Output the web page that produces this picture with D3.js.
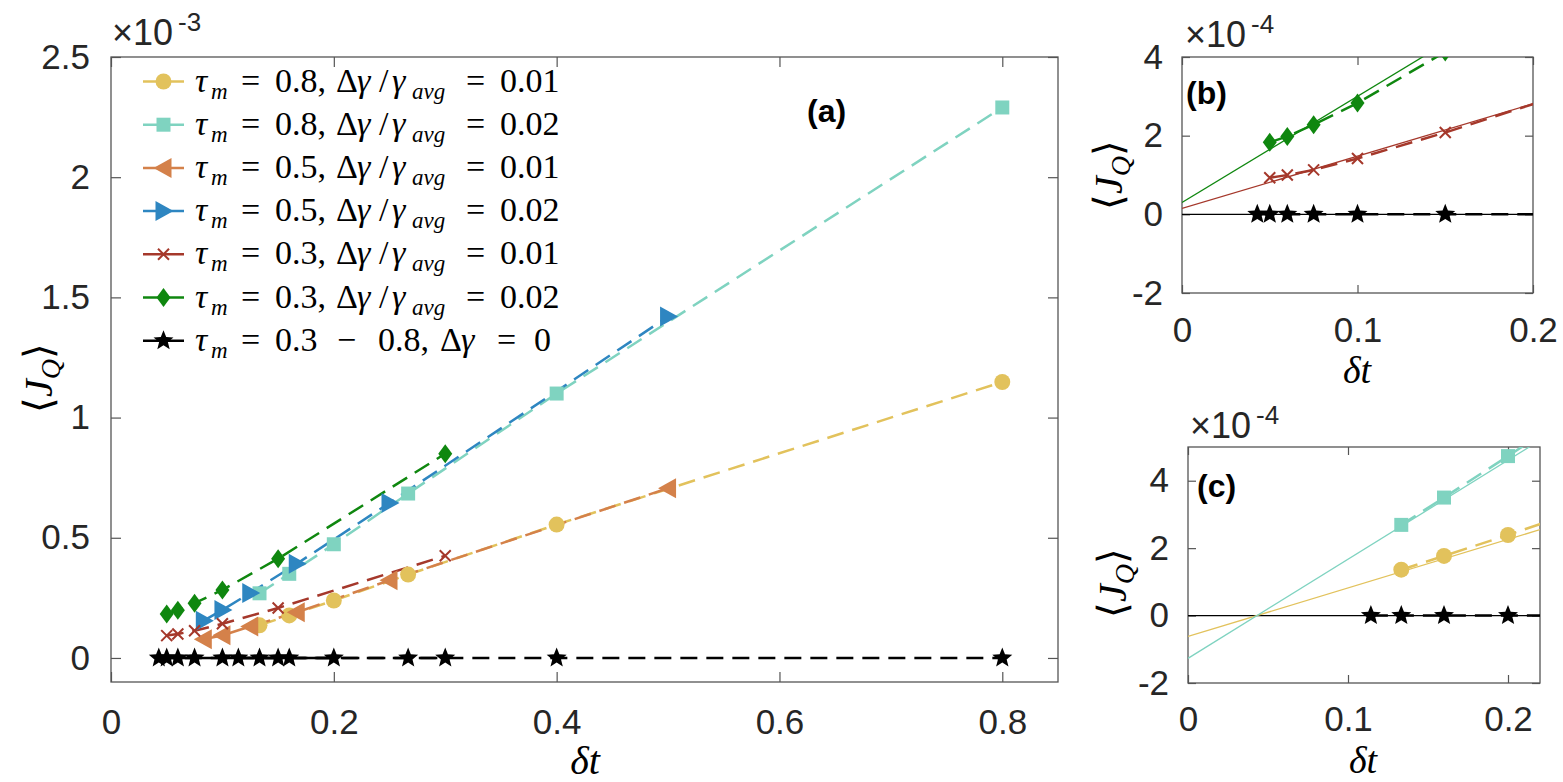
<!DOCTYPE html>
<html>
<head>
<meta charset="utf-8">
<script src="https://cdn.jsdelivr.net/npm/d3@7"></script>
<style>
  body { margin: 0; background: #fff; }
  .tick text { fill: #262626; font-family: "Liberation Sans", Arial, sans-serif; }
  .math { font-family: "Liberation Serif", "Times New Roman", serif; fill: #000; }
</style>
</head>
<body>
<svg id="fig" width="1563" height="782"></svg>
<script>
// Data, <J_Q> in units of 1e-3
const dt08 = [0.1333, 0.16, 0.2, 0.2667, 0.4, 0.8];
const dt05 = [0.0833, 0.1, 0.125, 0.1667, 0.25, 0.5];
const dt03 = [0.05, 0.06, 0.075, 0.1, 0.15, 0.3];
const jYellow = [0.136, 0.177, 0.239, 0.347, 0.555, 1.148];
const jCyan = [0.269, 0.350, 0.473, 0.684, 1.10, 2.29];
const jOrange = [0.078, 0.094, 0.131, 0.190, 0.323, 0.706];
const jBlue = [0.155, 0.200, 0.270, 0.392, 0.645, 1.42];
const jRed = [0.093, 0.100, 0.113, 0.142, 0.208, 0.425];
const jGreen = [0.183, 0.198, 0.228, 0.283, 0.413, 0.85];
const starDt03 = [0.0429, 0.05, 0.06, 0.075, 0.1, 0.15, 0.3];
const starDt08 = [0.1143, 0.1333, 0.16, 0.2, 0.2667, 0.4, 0.8];

// linear fits [intercept, slope] in 1e-3 units
const fitGreen = [0.030, 2.70];
const fitRed = [0.015, 1.33];
const fitYellow = [-0.062, 1.44];
const fitCyan = [-0.127, 2.94];
const fitZero = [0, 0];

const legendLabels = [
  ["0.8", "0.01"], ["0.8", "0.02"], ["0.5", "0.01"], ["0.5", "0.02"],
  ["0.3", "0.01"], ["0.3", "0.02"], ["0.3", null]
];

const colors = {
  yellow: "#e2c25c", cyan: "#7fd3c0", orange: "#d4814a", blue: "#2e86c1",
  red: "#a5382b", green: "#0f870f", black: "#000000"
};

const series = [
  {dt: dt08, j: jYellow, color: colors.yellow, marker: "circle"},
  {dt: dt08, j: jCyan, color: colors.cyan, marker: "square"},
  {dt: dt05, j: jOrange, color: colors.orange, marker: "tleft"},
  {dt: dt05, j: jBlue, color: colors.blue, marker: "tright"},
  {dt: dt03, j: jRed, color: colors.red, marker: "cross"},
  {dt: dt03, j: jGreen, color: colors.green, marker: "diamond"},
];
const starsA = {dt: starDt03, j: starDt03.map(() => 0), color: "#000", marker: "star"};
const starsB = {dt: starDt08, j: starDt08.map(() => 0), color: "#000", marker: "star"};

const svg = d3.select("#fig");
const dash = "17,9";

// Marker path strings
function markerPath(type) {
  switch (type) {
    case "circle": return d3.symbol(d3.symbolCircle, 200)();
    case "square": return "M-7,-7H7V7H-7Z";
    case "tleft": return "M-10,0L8,-10L8,10Z";
    case "tright": return "M10,0L-8,-10L-8,10Z";
    case "diamond": return "M0,-9.5L7,0L0,9.5L-7,0Z";
    case "cross": return "M-5.5,-5.5L5.5,5.5M-5.5,5.5L5.5,-5.5";
    case "star": {
      let p = [];
      for (let k = 0; k < 10; k++) {
        let r = k % 2 === 0 ? 10.5 : 4.6;
        let a = -Math.PI / 2 + k * Math.PI / 5;
        p.push([r * Math.cos(a), r * Math.sin(a)]);
      }
      return "M" + p.map(q => q[0].toFixed(2) + "," + q[1].toFixed(2)).join("L") + "Z";
    }
  }
}

function drawMarkers(g, xs, ys, s) {
  let pts = s.dt.map((d, i) => [d, s.j[i]]);
  g.selectAll(null).data(pts).enter().append("path")
    .attr("d", markerPath(s.marker))
    .attr("transform", d => `translate(${xs(d[0])},${ys(d[1])})`)
    .attr("fill", s.marker === "cross" ? "none" : s.color)
    .attr("stroke", s.marker === "cross" ? s.color : "none")
    .attr("stroke-width", 2);
}

function drawLine(g, xs, ys, s, style) {
  let pts = s.dt.map((d, i) => [d, s.j[i]]);
  g.append("path")
    .attr("d", d3.line().x(d => xs(d[0])).y(d => ys(d[1]))(pts))
    .attr("fill", "none")
    .attr("stroke", s.color)
    .attr("stroke-width", style.width)
    .attr("stroke-dasharray", style.dash);
}

// Build an axes box with inward ticks on all four sides
function makeAxes(id, box, xDom, yDom, xTicks, yTicks, yMult) {
  let xs = d3.scaleLinear().domain(xDom).range([box.l, box.r]);
  let ys = d3.scaleLinear().domain(yDom).range([box.b, box.t]);
  let g = svg.append("g");
  let tl = box.tick;
  let fmt = d => d3.format("~g")(d).replace("\u2212", "-");

  g.append("g").attr("transform", `translate(0,${box.b})`)
    .call(d3.axisBottom(xs).tickValues(xTicks).tickSize(-tl).tickPadding(box.xpad).tickFormat(fmt));
  g.append("g").attr("transform", `translate(0,${box.t})`)
    .call(d3.axisTop(xs).tickValues(xTicks).tickSize(-tl).tickFormat(""));
  g.append("g").attr("transform", `translate(${box.l},0)`)
    .call(d3.axisLeft(ys).tickValues(yTicks).tickSize(-tl).tickPadding(box.ypad).tickFormat(fmt));
  g.append("g").attr("transform", `translate(${box.r},0)`)
    .call(d3.axisRight(ys).tickValues(yTicks).tickSize(-tl).tickFormat(""));
  g.selectAll(".domain").remove();
  g.selectAll(".tick line").attr("stroke", "#555").attr("stroke-width", 1.2);
  g.selectAll(".tick text").attr("font-size", 35);

  g.append("rect").attr("x", box.l).attr("y", box.t)
    .attr("width", box.r - box.l).attr("height", box.b - box.t)
    .attr("fill", "none").attr("stroke", "#555").attr("stroke-width", 1.3);

  svg.append("clipPath").attr("id", id).append("rect")
    .attr("x", box.l).attr("y", box.t).attr("width", box.r - box.l).attr("height", box.b - box.t);
  let plot = svg.append("g").attr("clip-path", `url(#${id})`);
  let ysv = d3.scaleLinear().domain(yDom.map(v => v / yMult)).range([box.b, box.t]);
  return {xs, ys: ysv, plot, box};
}

function exponent(x, y, e) {
  let t = svg.append("text").attr("x", x).attr("y", y)
    .style("font-family", "'Liberation Sans', Arial, sans-serif").style("fill", "#262626")
    .style("font-size", "36px");
  t.append("tspan").text("\u00d710");
  t.append("tspan").style("font-size", "26px").attr("dy", -14).attr("dx", 5).text(e);
}

function yLabel(x, y, size) {
  let t = svg.append("text").attr("class", "math")
    .attr("transform", `translate(${x},${y}) rotate(-90)`)
    .attr("text-anchor", "middle").attr("font-size", size);
  t.append("tspan").text("\u27e8");
  t.append("tspan").attr("font-style", "italic").text("J");
  t.append("tspan").attr("font-style", "italic").attr("font-size", size * 0.7).attr("dy", size * 0.2).text("Q");
  t.append("tspan").attr("dy", -size * 0.2).text("\u27e9");
}

function xLabel(x, y, size) {
  svg.append("text").attr("class", "math").attr("x", x).attr("y", y)
    .attr("text-anchor", "middle").attr("font-size", size).attr("font-style", "italic")
    .text("\u03b4t");
}

function panelTag(x, y, s) {
  svg.append("text").attr("x", x).attr("y", y)
    .attr("font-family", "Liberation Sans, Arial, sans-serif").attr("font-weight", "bold")
    .attr("font-size", 32).attr("fill", "#000").text(s);
}

// ---------- Panel (a) ----------
let A = makeAxes("clipA", {l: 111, r: 1058, t: 57, b: 682, tick: 10, xpad: 27, ypad: 21},
  [0, 0.85], [-0.1, 2.5], [0, 0.2, 0.4, 0.6, 0.8], [0, 0.5, 1, 1.5, 2, 2.5], 1);

let solidStars = {dt: starDt03.filter(d => d <= 0.15).concat([0.2]), j: [0, 0, 0, 0, 0, 0, 0], color: "#000"};
drawLine(A.plot, A.xs, A.ys, solidStars, {width: 2.5, dash: null});
drawLine(A.plot, A.xs, A.ys, starsA, {width: 2.5, dash: dash});
drawLine(A.plot, A.xs, A.ys, starsB, {width: 2.5, dash: dash});
series.forEach(s => drawLine(A.plot, A.xs, A.ys, s, {width: 2.5, dash: dash}));
drawMarkers(A.plot, A.xs, A.ys, starsA);
drawMarkers(A.plot, A.xs, A.ys, starsB);
series.forEach(s => drawMarkers(A.plot, A.xs, A.ys, s));

exponent(112, 45, "-3");
yLabel(52, 378, 40);
xLabel(585, 774, 40);
panelTag(807, 122, "(a)");

// Legend, math laid out piece by piece with explicit x positions
const legendX = 143, legendY0 = 81.5, legendStep = 43.2;
let leg = svg.append("g");
function piece(t, x, s, opt) {
  let sp = t.append("tspan").attr("x", x).text(s);
  if (opt && opt.it) sp.attr("font-style", "italic");
  if (opt && opt.sub) sp.attr("font-size", 23).attr("dy", 7);
  if (opt && opt.up) sp.attr("dy", -7);
  return sp;
}
series.concat([starsA]).forEach((s, i) => {
  let y = legendY0 + i * legendStep;
  leg.append("line").attr("x1", legendX).attr("x2", legendX + 41)
    .attr("y1", y).attr("y2", y).attr("stroke", s.color).attr("stroke-width", 2.5);
  leg.append("path").attr("d", markerPath(s.marker))
    .attr("transform", `translate(${legendX + 20.5},${y})`)
    .attr("fill", s.marker === "cross" ? "none" : s.color)
    .attr("stroke", s.marker === "cross" ? s.color : "none").attr("stroke-width", 2);

  let lab = legendLabels[i];
  let t = leg.append("text").attr("class", "math").attr("y", y + 10).attr("font-size", 34);
  piece(t, 195, "\u03c4", {it: true});
  piece(t, 211, "m", {it: true, sub: true});
  piece(t, 241, "=", {up: true});
  if (lab[1] !== null) {
    piece(t, 275, lab[0] + ",");
    piece(t, 336, "\u0394");
    piece(t, 357, "\u03b3", {it: true});
    piece(t, 379, "/");
    piece(t, 392, "\u03b3", {it: true});
    piece(t, 412, "avg", {it: true, sub: true});
    piece(t, 466, "=", {up: true});
    piece(t, 500, lab[1]);
  } else {
    piece(t, 275, lab[0]);
    piece(t, 337, "\u2212");
    piece(t, 378, "0.8,");
    piece(t, 440, "\u0394");
    piece(t, 461, "\u03b3", {it: true});
    piece(t, 497, "=");
    piece(t, 534, "0");
  }
});

// ---------- Panel (b) ----------
let B = makeAxes("clipB", {l: 1182, r: 1533, t: 57, b: 293, tick: 8, xpad: 24, ypad: 19},
  [0, 0.2], [-2, 4], [0, 0.1, 0.2], [-2, 0, 2, 4], 10);

function fitSeries(f, color, x1) {
  return {dt: [0, x1], j: [f[0], f[0] + f[1] * x1], color: color};
}
drawLine(B.plot, B.xs, B.ys, fitSeries(fitZero, "#000", 0.2), {width: 1.2, dash: null});
drawLine(B.plot, B.xs, B.ys, fitSeries(fitGreen, colors.green, 0.2), {width: 1.3, dash: null});
drawLine(B.plot, B.xs, B.ys, fitSeries(fitRed, colors.red, 0.2), {width: 1.3, dash: null});
drawLine(B.plot, B.xs, B.ys, starsA, {width: 2.5, dash: dash});
drawLine(B.plot, B.xs, B.ys, series[4], {width: 2.5, dash: dash});
drawLine(B.plot, B.xs, B.ys, series[5], {width: 2.5, dash: dash});
drawMarkers(B.plot, B.xs, B.ys, starsA);
drawMarkers(B.plot, B.xs, B.ys, series[4]);
drawMarkers(B.plot, B.xs, B.ys, series[5]);

exponent(1185, 47, "-4");
yLabel(1122, 175, 40);
xLabel(1357, 383, 38);
panelTag(1186, 104, "(b)");

// ---------- Panel (c) ----------
let C = makeAxes("clipC", {l: 1188, r: 1540, t: 447, b: 683, tick: 8, xpad: 23, ypad: 19},
  [0, 0.22], [-2, 5], [0, 0.1, 0.2], [-2, 0, 2, 4], 10);

drawLine(C.plot, C.xs, C.ys, fitSeries(fitZero, "#000", 0.22), {width: 1.2, dash: null});
drawLine(C.plot, C.xs, C.ys, fitSeries(fitYellow, colors.yellow, 0.22), {width: 1.3, dash: null});
drawLine(C.plot, C.xs, C.ys, fitSeries(fitCyan, colors.cyan, 0.22), {width: 1.3, dash: null});
drawLine(C.plot, C.xs, C.ys, starsB, {width: 2.5, dash: dash});
drawLine(C.plot, C.xs, C.ys, series[0], {width: 2.5, dash: dash});
drawLine(C.plot, C.xs, C.ys, series[1], {width: 2.5, dash: dash});
drawMarkers(C.plot, C.xs, C.ys, starsB);
drawMarkers(C.plot, C.xs, C.ys, series[0]);
drawMarkers(C.plot, C.xs, C.ys, series[1]);

exponent(1190, 438, "-4");
yLabel(1126, 583, 40);
xLabel(1363, 773, 38);
panelTag(1197, 497, "(c)");
</script>
</body>
</html>
